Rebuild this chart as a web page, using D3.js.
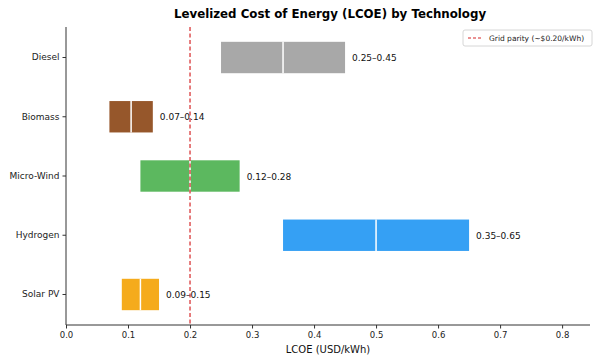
<!DOCTYPE html>
<html><head><meta charset="utf-8">
<script src="https://cdn.jsdelivr.net/npm/d3@7"></script>
<style>body{margin:0;background:#fff}svg{display:block}text{font-family:"DejaVu Sans",sans-serif}</style>
</head><body>
<svg id="c" width="600" height="360"></svg>
<script>
const technologies = ["Diesel", "Biomass", "Micro-Wind", "Hydrogen", "Solar PV"];
const lcoeMin = [0.25, 0.07, 0.12, 0.35, 0.09];
const lcoeMax = [0.45, 0.14, 0.28, 0.65, 0.15];
const barColors = ["#a8a8a8", "#96572b", "#5cb85f", "#35a0f4", "#f5ab1c"];
const xTicks = [0, 0.1, 0.2, 0.3, 0.4, 0.5, 0.6, 0.7, 0.8];
const gridParity = 0.2;
const legendLabel = "Grid parity (~$0.20/kWh)";

const svg = d3.select("#c");
const m = {l: 66, r: 10, t: 27, b: 35};
const W = 600, H = 360;
const x = d3.scaleLinear().domain([0, 0.845]).range([m.l, W - m.r]);
const y = d3.scaleBand().domain(technologies).range([m.t, H - m.b]).paddingInner(0.47).paddingOuter(0.25);

svg.append("text").attr("x", 330).attr("y", 18).attr("text-anchor", "middle")
  .attr("font-size", 11.8).attr("font-weight", "bold").text("Levelized Cost of Energy (LCOE) by Technology");

const data = technologies.map((t, i) => ({t, lo: lcoeMin[i], hi: lcoeMax[i], c: barColors[i]}));

const g = svg.append("g");
g.selectAll("rect.bar").data(data).join("rect").attr("class", "bar")
  .attr("x", d => x(d.lo)).attr("width", d => x(d.hi) - x(d.lo))
  .attr("y", d => y(d.t)).attr("height", y.bandwidth()).attr("fill", d => d.c);
g.selectAll("line.mid").data(data).join("line").attr("class", "mid")
  .attr("x1", d => x((d.lo + d.hi) / 2)).attr("x2", d => x((d.lo + d.hi) / 2))
  .attr("y1", d => y(d.t)).attr("y2", d => y(d.t) + y.bandwidth())
  .attr("stroke", "#fff").attr("stroke-width", 1.5);
g.selectAll("text.lab").data(data).join("text").attr("class", "lab")
  .attr("x", d => x(d.hi) + 7).attr("y", d => y(d.t) + y.bandwidth() / 2 + 3.5)
  .attr("font-size", 9).attr("fill", "#111").text(d => `${d.lo.toFixed(2)}–${d.hi.toFixed(2)}`);

svg.append("line").attr("x1", x(gridParity)).attr("x2", x(gridParity))
  .attr("y1", m.t).attr("y2", H - m.b).attr("stroke", "#d62728").attr("stroke-width", 1.2)
  .attr("stroke-dasharray", "4,2.5");

const xa = svg.append("g").attr("transform", `translate(0,${H - m.b})`)
  .call(d3.axisBottom(x).tickValues(xTicks).tickFormat(d3.format(".1f")).tickSize(3.5).tickPadding(3));
xa.select(".domain").attr("d", `M${m.l},0H${W - m.r}`).attr("stroke", "#333");
xa.selectAll("text").attr("font-size", 8.5).attr("fill", "#222").style("font-family", "DejaVu Sans");
xa.selectAll(".tick line").attr("stroke", "#333");

const ya = svg.append("g").attr("transform", `translate(${m.l},0)`)
  .call(d3.axisLeft(y).tickSize(3.5).tickPadding(3));
ya.select(".domain").attr("d", `M0,${m.t}V${H - m.b}`).attr("stroke", "#333");
ya.selectAll("text").attr("font-size", 9).attr("fill", "#222").style("font-family", "DejaVu Sans");
ya.selectAll(".tick line").attr("stroke", "#333");

svg.append("text").attr("x", x(0.845 / 2)).attr("y", 353).attr("text-anchor", "middle")
  .attr("font-size", 10).attr("fill", "#111").text("LCOE (USD/kWh)");

const lg = svg.append("g").attr("transform", "translate(463,30)");
lg.append("rect").attr("width", 129).attr("height", 16).attr("rx", 2).attr("fill", "#fff")
  .attr("stroke", "#ccc").attr("stroke-width", 0.8);
lg.append("line").attr("x1", 5).attr("x2", 20).attr("y1", 8).attr("y2", 8)
  .attr("stroke", "#d62728").attr("stroke-width", 1.2).attr("stroke-dasharray", "3,2");
lg.append("text").attr("x", 26).attr("y", 11).attr("font-size", 7.5).attr("fill", "#222").text(legendLabel);
</script>
</body></html>
